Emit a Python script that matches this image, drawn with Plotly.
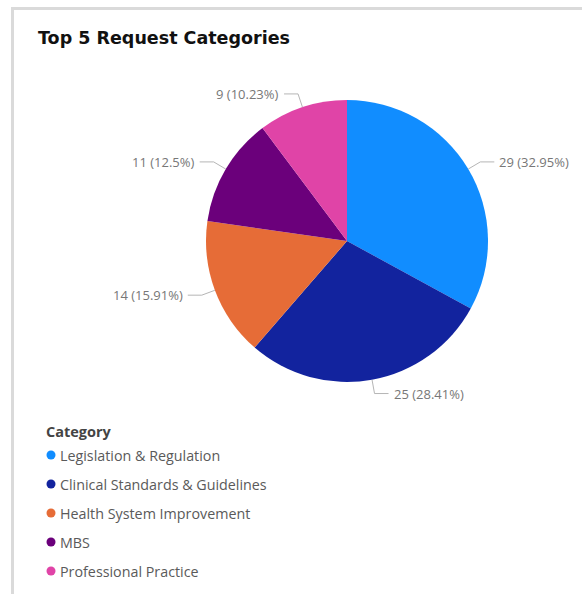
import math
import plotly.graph_objects as go

# ---- data ----
categories = ["Legislation & Regulation", "Clinical Standards & Guidelines",
              "Health System Improvement", "MBS", "Professional Practice"]
counts = [29, 25, 14, 11, 9]
colors = ["#118DFF", "#12239E", "#E66C37", "#6B007B", "#E044A7"]
title_text = "Top 5 Request Categories"
legend_title = "Category"

W, H = 582, 594
# pie geometry (pixels)
CX, CY, R = 347, 241, 141

fig = go.Figure()
fig.add_trace(go.Pie(
    labels=categories, values=counts, sort=False, direction="clockwise",
    rotation=0, marker=dict(colors=colors, line=dict(width=0)),
    textinfo="none", textposition="none", showlegend=False, hole=0,
    domain=dict(x=[(CX - R) / W, (CX + R) / W], y=[1 - (CY + R) / H, 1 - (CY - R) / H]),
))

total = sum(counts)
shapes = []
annotations = []
cum = 0
for c, v in zip(categories, counts):
    frac = v / total
    mid = (cum + frac / 2) * 2 * math.pi
    cum += frac
    sx, sy = math.sin(mid), -math.cos(mid)
    x0, y0 = CX + R * sx, CY + R * sy
    x1, y1 = CX + (R + 14) * sx, CY + (R + 14) * sy
    side = 1 if sx >= 0 else -1
    x2 = x1 + side * 14
    shapes.append(dict(type="path", xref="x", yref="y",
                       path=f"M{x0},{y0} L{x1},{y1} L{x2},{y1}",
                       line=dict(color="#b5b5b5", width=1)))
    pct = round(frac * 100, 2)
    label = f"{v} ({pct:g}%)"
    annotations.append(dict(x=x2 + side * 3, y=y1, xref="x", yref="y", text=label,
                            showarrow=False, xanchor="left" if side > 0 else "right",
                            yanchor="middle",
                            font=dict(family="Open Sans", size=13, color="#777777")))

# frame
shapes.append(dict(type="line", xref="x", yref="y", x0=11, x1=W, y0=8.5, y1=8.5,
                   line=dict(color="#dadada", width=3)))
shapes.append(dict(type="line", xref="x", yref="y", x0=12.5, x1=12.5, y0=7, y1=H,
                   line=dict(color="#dadada", width=3)))

# title
annotations.append(dict(x=36, y=38, xref="x", yref="y", text=f"<b>{title_text}</b>",
                        showarrow=False, xanchor="left", yanchor="middle",
                        font=dict(family="DejaVu Sans", size=17.5, color="#111111")))
# legend (manual)
annotations.append(dict(x=44, y=431, xref="x", yref="y", text=f"<b>{legend_title}</b>",
                        showarrow=False, xanchor="left", yanchor="middle",
                        font=dict(family="Open Sans", size=14.5, color="#444444")))
leg_y = [455 + 29 * i for i in range(len(categories))]
fig.add_trace(go.Scatter(x=[51] * len(categories), y=leg_y, mode="markers",
                         marker=dict(color=colors, size=9), showlegend=False,
                         hoverinfo="skip"))
for c, y in zip(categories, leg_y):
    annotations.append(dict(x=57.5, y=y, xref="x", yref="y", text=c, showarrow=False,
                            xanchor="left", yanchor="middle",
                            font=dict(family="Open Sans", size=14.3, color="#5a5a5a")))

fig.update_layout(
    width=W, height=H, margin=dict(l=0, r=0, t=0, b=0),
    paper_bgcolor="white", plot_bgcolor="rgba(0,0,0,0)",
    xaxis=dict(range=[0, W], visible=False, fixedrange=True, domain=[0, 1]),
    yaxis=dict(range=[H, 0], visible=False, fixedrange=True, domain=[0, 1]),
    shapes=shapes, annotations=annotations, showlegend=False,
)
fig.write_html("out.html")
